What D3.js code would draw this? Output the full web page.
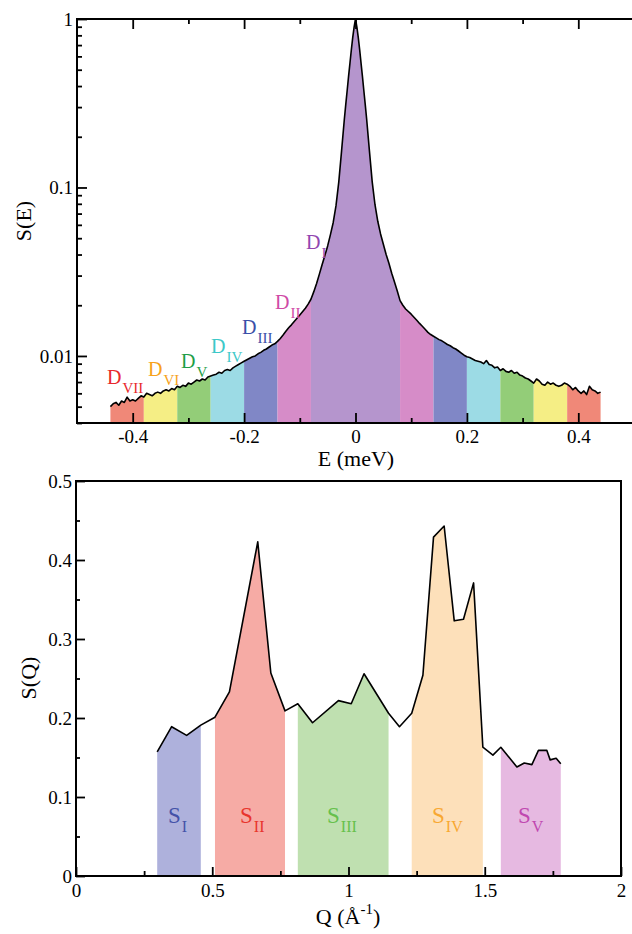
<!DOCTYPE html>
<html>
<head>
<meta charset="utf-8">
<script src="https://cdn.jsdelivr.net/npm/d3@7"></script>
<style>
body { margin: 0; background: #fff; }
</style>
</head>
<body>
<script>
const FONT = "'Liberation Serif', 'DejaVu Serif', 'Times New Roman', serif";

// ---------- top panel : S(E), log scale ----------
// left tail
const eLeft = [
  -0.44, -0.435, -0.43, -0.425, -0.42, -0.415, -0.41, -0.405, -0.40, -0.395,
  -0.39, -0.385, -0.38, -0.375, -0.37, -0.365, -0.36, -0.355, -0.35, -0.345,
  -0.34, -0.335, -0.33, -0.325, -0.32, -0.315, -0.31, -0.305, -0.30, -0.295,
  -0.29, -0.285, -0.28, -0.275, -0.27, -0.265, -0.26, -0.255, -0.25, -0.245,
  -0.24, -0.235, -0.23, -0.225, -0.22, -0.215, -0.21, -0.205, -0.20, -0.195,
  -0.19, -0.185, -0.18, -0.175, -0.17, -0.165, -0.16, -0.155, -0.15, -0.145,
  -0.14, -0.135, -0.13
];
const sLeft = [
  0.0050, 0.0052, 0.0053, 0.0051, 0.0054, 0.0053, 0.0057, 0.0054, 0.0055, 0.0054,
  0.0056, 0.0058, 0.0057, 0.0060, 0.0059, 0.0058, 0.0060, 0.0061, 0.0060, 0.0062,
  0.0063, 0.0062, 0.0064, 0.0063, 0.0066, 0.0065, 0.0067, 0.0066, 0.0069, 0.0068,
  0.0070, 0.0072, 0.0071, 0.0073, 0.0072, 0.0075, 0.0076, 0.0077, 0.0078, 0.0080,
  0.0079, 0.0082, 0.0083, 0.0082, 0.0085, 0.0087, 0.0089, 0.0091, 0.0093, 0.0095,
  0.0097, 0.0099, 0.0100, 0.0103, 0.0105, 0.0108, 0.0110, 0.0113, 0.0116, 0.0118,
  0.0122, 0.0127, 0.0133
];
// central peak
const eCore = [
  -0.125, -0.12, -0.115, -0.11, -0.10, -0.09, -0.085, -0.08, -0.075, -0.07,
  -0.065, -0.06, -0.055, -0.05, -0.045, -0.04, -0.035, -0.03, -0.025, -0.02,
  -0.0175, -0.015, -0.0125, -0.01, -0.0075, -0.005, -0.0025, 0,
  0.0025, 0.005, 0.0075, 0.01, 0.0125, 0.015, 0.0175, 0.02, 0.025, 0.03,
  0.035, 0.04, 0.045, 0.05, 0.055, 0.06, 0.065, 0.07, 0.075, 0.08,
  0.085, 0.09, 0.10, 0.11, 0.115, 0.12, 0.125
];
const sCore = [
  0.0140, 0.0147, 0.0153, 0.0160, 0.0175, 0.0192, 0.0203, 0.0217, 0.0240, 0.0268,
  0.0305, 0.0348, 0.0395, 0.0450, 0.0525, 0.0620, 0.078, 0.108, 0.165, 0.255,
  0.31, 0.375, 0.455, 0.545, 0.655, 0.775, 0.895, 1.0,
  0.895, 0.775, 0.655, 0.545, 0.455, 0.375, 0.31, 0.255, 0.165, 0.108,
  0.079, 0.063, 0.053, 0.046, 0.040, 0.0355, 0.031, 0.0275, 0.0243, 0.0213,
  0.0200, 0.0190, 0.0177, 0.0163, 0.0156, 0.0150, 0.0144
];
// right tail
const eRight = [
  0.13, 0.135, 0.14, 0.145, 0.15, 0.155, 0.16, 0.165, 0.17, 0.175,
  0.18, 0.185, 0.19, 0.195, 0.20, 0.205, 0.21, 0.215, 0.22, 0.225,
  0.23, 0.235, 0.24, 0.245, 0.25, 0.255, 0.26, 0.265, 0.27, 0.275,
  0.28, 0.285, 0.29, 0.295, 0.30, 0.305, 0.31, 0.315, 0.32, 0.325,
  0.33, 0.335, 0.34, 0.345, 0.35, 0.355, 0.36, 0.365, 0.37, 0.375,
  0.38, 0.385, 0.39, 0.395, 0.40, 0.405, 0.41, 0.415, 0.42, 0.425,
  0.43, 0.435, 0.44
];
const sRight = [
  0.0138, 0.0134, 0.0131, 0.0128, 0.0125, 0.0123, 0.0120, 0.0117, 0.0115, 0.0112,
  0.0110, 0.0107, 0.0104, 0.0101, 0.0099, 0.0098, 0.0096, 0.0094, 0.0093, 0.0092,
  0.0090, 0.0094, 0.0089, 0.0088, 0.0085, 0.0086, 0.0082, 0.0084, 0.0081, 0.0080,
  0.0082, 0.0079, 0.0080, 0.0077, 0.0076, 0.0074, 0.0073, 0.0071, 0.0069, 0.0073,
  0.0071, 0.0068, 0.0067, 0.0070, 0.0068, 0.0069, 0.0067, 0.0066, 0.0067, 0.0069,
  0.0068, 0.0066, 0.0063, 0.0065, 0.0062, 0.0060, 0.0062, 0.0059, 0.0066, 0.0063,
  0.0062, 0.0060, 0.0061
];
const eBands = [
  [-0.44, -0.38], [-0.38, -0.32], [-0.32, -0.26], [-0.26, -0.20], [-0.20, -0.14],
  [-0.14, -0.08], [-0.08, 0.08], [0.08, 0.14], [0.14, 0.20], [0.20, 0.26],
  [0.26, 0.32], [0.32, 0.38], [0.38, 0.44]
];
const eBandColors = [
  "#f08878", "#f5ee85", "#93cd78", "#9cdbe5", "#8087c6", "#d68cc8", "#b595cd",
  "#d68cc8", "#8087c6", "#9cdbe5", "#93cd78", "#f5ee85", "#f08878"
];
const eLabelSubs = ["VII", "VI", "V", "IV", "III", "II", "I"];
const eLabelColors = ["#e8282c", "#f7a21b", "#1e9e48", "#3cc8c8", "#3a4fa8", "#cf4aa6", "#9146b0"];
const eMajor = [-0.4, -0.2, 0, 0.2, 0.4];
const eMajorText = ["-0.4", "-0.2", "0", "0.2", "0.4"];
const eMinor = [-0.3, -0.1, 0.1, 0.3];
const sEMajor = [0.01, 0.1, 1];
const sEMajorText = ["0.01", "0.1", "1"];

// ---------- bottom panel : S(Q) ----------
const qVals = [
  0.298, 0.351, 0.406, 0.458, 0.510, 0.563, 0.667, 0.715, 0.767, 0.814,
  0.868, 0.963, 1.010, 1.057, 1.147, 1.187, 1.232, 1.273, 1.312, 1.351,
  1.388, 1.422, 1.459, 1.493, 1.530, 1.559, 1.618, 1.645, 1.673, 1.697,
  1.728, 1.740, 1.762, 1.779
];
const sQ = [
  0.157, 0.189, 0.178, 0.191, 0.201, 0.233, 0.423, 0.257, 0.209, 0.218,
  0.194, 0.222, 0.218, 0.256, 0.206, 0.189, 0.206, 0.254, 0.429, 0.443,
  0.323, 0.325, 0.371, 0.163, 0.153, 0.163, 0.138, 0.143, 0.141, 0.159,
  0.159, 0.147, 0.149, 0.142
];
const qBands = [[0.298, 0.458], [0.510, 0.767], [0.814, 1.147], [1.232, 1.493], [1.559, 1.779]];
const qBandColors = ["#aeb1dc", "#f6aba5", "#bfe0b0", "#fde0ba", "#e6b9e1"];
const qLabelSubs = ["I", "II", "III", "IV", "V"];
const qLabelColors = ["#4452a8", "#e8342c", "#66c04c", "#f8a832", "#c048b0"];
const qMajor = [0, 0.5, 1, 1.5, 2];
const qMajorText = ["0", "0.5", "1", "1.5", "2"];
const qMinor = [0.25, 0.75, 1.25, 1.75];
const sQMajor = [0, 0.1, 0.2, 0.3, 0.4, 0.5];
const sQMajorText = ["0", "0.1", "0.2", "0.3", "0.4", "0.5"];
const sQMinor = [0.05, 0.15, 0.25, 0.35, 0.45];

// label anchor points (pixels), layout only
const eLabelPos = [[107, 384], [148, 376], [181, 368], [211, 353], [242, 334], [275, 309], [306, 249]];
const qLabelPos = [[168, 823], [240, 823], [327, 823], [432, 823], [518, 823]];

const svg = d3.select("body").append("svg")
  .attr("width", 632)
  .attr("height", 934);

// helper : inward ticks, no domain path
function ticks(g, axis) {
  g.call(axis);
  g.attr("font-family", null);
  g.select(".domain").remove();
  g.selectAll(".tick line").attr("stroke", "#000").attr("stroke-width", 1.8);
  g.selectAll(".tick text").attr("fill", "#000").style("font-size", "19px");
}

// ===== top panel =====
const xE = d3.scaleLinear().domain([-0.5, 0.5]).range([77, 634]);
const yE = d3.scaleLog().domain([0.004, 1]).range([423, 19]);

const energy = eLeft.concat(eCore, eRight);
const sE = sLeft.concat(sCore, sRight);
const ptsE = energy.map((e, i) => ({ x: e, y: sE[i] }));
const areaE = d3.area().x(d => xE(d.x)).y0(yE(0.004)).y1(d => yE(d.y));
const lineE = d3.line().x(d => xE(d.x)).y(d => yE(d.y));

const gTop = svg.append("g");

eBands.forEach((b, i) => {
  const part = ptsE.filter(d => d.x >= b[0] - 1e-9 && d.x <= b[1] + 1e-9);
  gTop.append("path")
    .attr("d", areaE(part))
    .attr("fill", eBandColors[i]);
});

gTop.append("path")
  .attr("d", lineE(ptsE))
  .attr("fill", "none")
  .attr("stroke", "#000")
  .attr("stroke-width", 1.6)
  .attr("stroke-linejoin", "round");

// axes
const logMinor = yE.ticks().filter(t => Math.abs(Math.log10(t) - Math.round(Math.log10(t))) > 1e-6);

ticks(gTop.append("g").attr("transform", "translate(0,423)"),
  d3.axisBottom(xE).tickValues(eMajor).tickSize(-10).tickPadding(7)
    .tickFormat((d, i) => eMajorText[i]));
ticks(gTop.append("g").attr("transform", "translate(0,423)"),
  d3.axisBottom(xE).tickValues(eMinor).tickSize(-5).tickFormat(""));
ticks(gTop.append("g").attr("transform", "translate(0,19)"),
  d3.axisTop(xE).tickValues(eMajor).tickSize(-10).tickFormat(""));
ticks(gTop.append("g").attr("transform", "translate(0,19)"),
  d3.axisTop(xE).tickValues(eMinor).tickSize(-5).tickFormat(""));
ticks(gTop.append("g").attr("transform", "translate(77,0)"),
  d3.axisLeft(yE).tickValues(sEMajor).tickSize(-10).tickPadding(4)
    .tickFormat((d, i) => sEMajorText[i]));
ticks(gTop.append("g").attr("transform", "translate(77,0)"),
  d3.axisLeft(yE).tickValues(logMinor).tickSize(-5).tickFormat(""));

// frame (right edge falls outside the page)
gTop.append("path")
  .attr("d", `M634,19H77V423H634`)
  .attr("fill", "none")
  .attr("stroke", "#000")
  .attr("stroke-width", 2);

// labels D_n
eLabelSubs.forEach((s, i) => {
  const t = gTop.append("text")
    .attr("x", eLabelPos[i][0])
    .attr("y", eLabelPos[i][1])
    .attr("fill", eLabelColors[i])
    .style("font-size", "20px")
    .text("D");
  t.append("tspan")
    .attr("dx", 1)
    .attr("dy", 9)
    .style("font-size", "15px")
    .text(s);
});

gTop.append("text")
  .attr("x", 356).attr("y", 466)
  .attr("text-anchor", "middle")
  .style("font-size", "22px")
  .text("E (meV)");

gTop.append("text")
  .attr("transform", "translate(31,221) rotate(-90)")
  .attr("text-anchor", "middle")
  .style("font-size", "22px")
  .text("S(E)");

// ===== bottom panel =====
const xQ = d3.scaleLinear().domain([0, 2]).range([76, 621]);
const yQ = d3.scaleLinear().domain([0, 0.5]).range([876, 481]);

const ptsQ = qVals.map((q, i) => ({ x: q, y: sQ[i] }));
const areaQ = d3.area().x(d => xQ(d.x)).y0(yQ(0)).y1(d => yQ(d.y));
const lineQ = d3.line().x(d => xQ(d.x)).y(d => yQ(d.y));

const gBot = svg.append("g");

qBands.forEach((b, i) => {
  const part = ptsQ.filter(d => d.x >= b[0] - 1e-9 && d.x <= b[1] + 1e-9);
  gBot.append("path")
    .attr("d", areaQ(part))
    .attr("fill", qBandColors[i]);
});

gBot.append("path")
  .attr("d", lineQ(ptsQ))
  .attr("fill", "none")
  .attr("stroke", "#000")
  .attr("stroke-width", 1.6)
  .attr("stroke-linejoin", "round");

ticks(gBot.append("g").attr("transform", "translate(0,876)"),
  d3.axisBottom(xQ).tickValues(qMajor).tickSize(-9).tickPadding(8)
    .tickFormat((d, i) => qMajorText[i]));
ticks(gBot.append("g").attr("transform", "translate(0,876)"),
  d3.axisBottom(xQ).tickValues(qMinor).tickSize(-5).tickFormat(""));
ticks(gBot.append("g").attr("transform", "translate(76,0)"),
  d3.axisLeft(yQ).tickValues(sQMajor).tickSize(-9).tickPadding(4)
    .tickFormat((d, i) => sQMajorText[i]));
ticks(gBot.append("g").attr("transform", "translate(76,0)"),
  d3.axisLeft(yQ).tickValues(sQMinor).tickSize(-4).tickFormat(""));

gBot.append("rect")
  .attr("x", 76).attr("y", 481)
  .attr("width", 545).attr("height", 395)
  .attr("fill", "none")
  .attr("stroke", "#000")
  .attr("stroke-width", 2);

qLabelSubs.forEach((s, i) => {
  const t = gBot.append("text")
    .attr("x", qLabelPos[i][0])
    .attr("y", qLabelPos[i][1])
    .attr("fill", qLabelColors[i])
    .style("font-size", "23px")
    .text("S");
  t.append("tspan")
    .attr("dx", 1)
    .attr("dy", 9)
    .style("font-size", "16px")
    .text(s);
});

const qTitle = gBot.append("text")
  .attr("x", 348).attr("y", 924)
  .attr("text-anchor", "middle")
  .style("font-size", "22px")
  .text("Q (Å");
qTitle.append("tspan").attr("dy", -10).style("font-size", "15px").text("-1");
qTitle.append("tspan").attr("dy", 10).text(")");

gBot.append("text")
  .attr("transform", "translate(36,678) rotate(-90)")
  .attr("text-anchor", "middle")
  .style("font-size", "22px")
  .text("S(Q)");

// serif everywhere
svg.selectAll("text").style("font-family", FONT);
</script>
</body>
</html>
